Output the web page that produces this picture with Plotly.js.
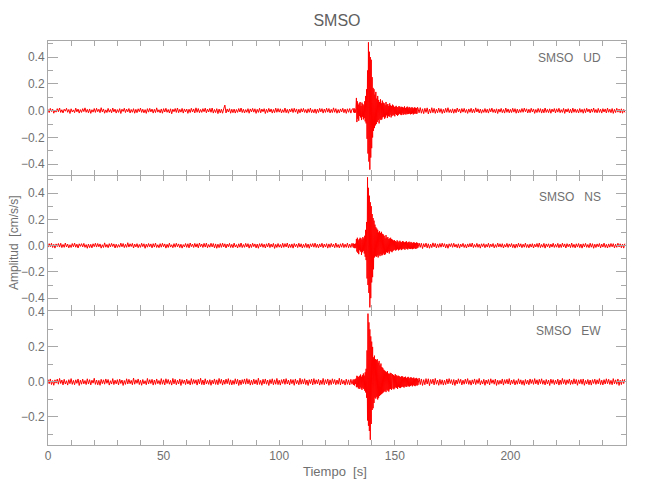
<!DOCTYPE html>
<html>
<head>
<meta charset="utf-8">
<script src="https://cdn.plot.ly/plotly-3.0.1.min.js"></script>
<style>html,body{margin:0;padding:0;background:#fff;}#chart{width:650px;height:500px;}</style>
</head>
<body>
<div id="chart"></div>
<script>
// ---- Data (amplitudes in 0.001 cm/s/s) ----
const station = "SMSO";
const channels = ["UD", "NS", "EW"];
const unit = 0.001;
// sampling of the three record segments [s]
const preStart = 0, preStep = 0.5;
const eventStart = 132, eventStep = 0.2;
const postStart = 160, postStep = 0.5;

const udPre = [10,-14,17,-6,12,-19,5,-11,15,-8,20,-13,7,-17,11,-4,18,-12,9,-21,
14,-10,6,-15,19,-9,12,-18,8,-13,15,-7,21,-12,10,-16,13,-20,7,-11,
16,-13,18,-8,11,-15,22,-10,13,-19,6,-14,17,-11,9,-16,20,-9,12,-18,
8,-13,15,-21,11,-6,18,-14,12,-9,16,-17,9,-12,15,-19,10,-15,14,-8,
19,-13,11,-16,8,-20,15,-11,17,-9,12,-18,10,-14,21,-11,7,-16,13,-19,
15,-10,18,-12,9,-17,14,-23,11,-8,16,-13,20,-15,10,-11,17,-18,13,-9,
12,-20,11,-14,18,-10,13,-17,21,-12,16,-15,9,-13,15,-8,19,-16,12,-10,
17,-12,20,-18,9,-14,15,-22,12,-16,11,-19,14,42,-17,13,-10,15,-19,11,
-15,12,-18,9,-13,16,-10,20,-14,11,-17,8,-12,15,-19,13,-9,17,-11,14,
-20,10,-13,18,-16,12,-8,15,-21,11,-14,17,-10,13,-18,9,-15,19,-12,16,
-11,14,-17,8,-13,20,-15,10,-19,12,-9,16,-14,18,-11,13,-22,11,-16,15,
-10,17,-13,9,-18,14,-12,19,-15,8,-16,13,-20,11,-14,17,-9,15,-18,12,
-13,19,-11,16,-17,10,-14,21,-12,15,-19,9,-16,13,-10,18,-15,12,-20,14,
-12,16,-18,11];
const udEvent = [15,-12,18,-16,10,-14,20,
95,-85,70,
-60,45,-75,55,-40,65,-50,35,-70,60,-45,50,-65,40,-55,
70,-80,110,-95,160,
-210,300,-320,510,-380,440,-440,400,-350,380,
-280,250,-200,170,-150,160,-130,120,-110,140,
-100,90,-85,110,-70,80,-95,65,-60,85,-70,55,-65,75,-50,
60,-45,55,-60,40,-50,65,-35,45,-55,50,-40,35,-45,55,-30,40,-50,35,-40,
45,-30,38,-35,28,-42,30,-25,36,-32,27,-38,25,-30,34,-22,30,-28,24,-33,29,-20,26,-31,22,-27,32,-24,20,-29,
25,-22,30,-26,19,-24,28,-21,23,-27,18,-25,26,-20,22,-28,17,-23,25,-19,21,-24,18,-22,26];
const udPost = [20,-16,23,-19,14,-22,18,-13,21,-24,12,-18,22,-15,17,-20,11,-16,19,-13,
15,-21,10,-17,18,-12,22,-14,9,-16,14,-19,12,-15,20,-9,13,-18,16,-11,
17,-14,9,-20,13,-12,18,-16,11,-15,21,-10,14,-17,12,-19,8,-13,16,-14,
11,-18,15,-9,19,-13,10,-16,14,-21,12,-11,17,-15,9,-18,20,-12,13,-16,
10,-14,18,-11,15,-19,12,-17,9,-13,16,-12,19,-8,14,-17,11,-15,18,-10,
13,-20,9,-14,17,-12,15,-18,11,-16,20,-13,10,-15,14,-19,12,-9,16,-17,
14,-11,18,-15,8,-13,17,-20,12,-10,15,-16,11,-18,19,-12,13,-14,9,-17,
16,-12,10,-19,14,-15,18,-9,12,-17,13,-11,20,-14,9,-16,17,-13,11,-18,
15,-10,13,-17,19,-12,11,-15,16,-20,10,-14,18,-11,12,-16,14,-19,9,-13];

const nsPre = [-12,15,-8,18,-14,10,-19,13,-7,16,-11,18,-15,9,-13,20,-10,12,-17,7,
-14,16,-9,19,-12,11,-18,14,-6,15,-10,17,-13,8,-20,12,-15,10,-17,14,
-8,18,-11,16,-9,13,-19,7,-14,21,-12,9,-16,15,-10,17,-7,13,-18,11,
-14,8,-12,19,-9,16,-15,10,-13,22,-11,14,-7,17,-18,12,-10,15,-16,9,
-13,18,-8,14,-20,11,-12,16,-9,13,-17,15,-11,19,-14,7,-16,15,-12,18,
-9,13,-19,10,-14,19,-11,7,-16,15,-12,18,-9,13,-15,11,-19,8,-10,16,
-13,14,-17,20,-8,12,-14,17,-11,14,-17,20,-8,12,-14,17,-11,19,-16,9,
-12,18,-10,16,-17,13,-20,11,-15,16,-13,19,-10,14,-18,12,-9,17,-14,10,
-16,19,-11,8,-18,14,-12,20,-15,9,-13,17,-10,15,-19,11,-14,18,-8,13,
-17,12,-20,15,-9,16,-13,11,-18,14,-10,19,-15,12,-11,17,-21,10,-14,16,
-12,9,-16,18,-13,15,-10,20,-17,11,-14,13,-19,16,-9,12,-15,18,-11,14,
-18,10,-13,17,-15,12,-20,14,-9,16,-12,19,-14,11,-17,13,-10,18,-16,12,
-11,15,-19,13,-14,17,-10,12,-16,20,-13,9,-17,14,-12,18,-15,11,-13,19,
-16,12,-14,18];
const nsEvent = [-13,16,-18,12,-20,15,-17,
50,-45,60,
-55,40,-65,50,-35,60,-45,55,-70,45,-50,65,-40,55,-60,
75,-85,120,-110,180,
-250,520,-300,440,-360,380,-470,330,-400,300,
-280,240,-240,210,-180,190,-90,160,-80,140,
-85,130,-75,120,-90,100,-70,110,-80,95,-65,105,-75,90,-70,
85,-60,75,-70,55,-65,80,-50,60,-55,65,-45,50,-60,55,-40,60,-45,50,-50,
45,-40,38,-35,42,-30,35,-38,28,-33,40,-27,32,-36,25,-30,37,-24,29,-34,26,-28,35,-22,30,-27,24,-31,28,-20,
33,-25,22,-29,27,-21,30,-24,19,-26,28,-22,23,-27,20,-24,26,-18,22,-25,19,-23,24,-20,21];
const nsPost = [-16,20,-13,18,-22,15,-11,19,-17,14,-20,12,-15,21,-10,17,-18,13,-14,16,
-12,19,-9,15,-17,11,-20,14,-8,16,-13,18,-11,10,-16,14,-19,12,-9,17,
-14,9,-18,13,-11,16,-10,20,-15,9,-12,17,-13,11,-19,14,-8,15,-16,10,
-11,18,-14,12,-9,16,-17,8,-13,19,-10,14,-12,15,-18,9,-11,17,-14,13,
-9,16,-15,10,-19,12,-13,18,-10,14,-16,11,-12,19,-14,9,-17,13,-11,15,
-18,11,-10,16,-13,20,-15,9,-12,17,-19,13,-9,14,-16,12,-11,18,-14,10,
-12,17,-16,11,-14,19,-10,13,-18,15,-9,12,-15,20,-13,10,-17,14,-11,16,
-15,12,-19,14,-10,17,-13,9,-16,18,-12,15,-20,11,-14,13,-9,16,-17,12,
-11,19,-14,10,-18,13,-12,16,-9,15,-17,11,-13,18,-10,14,-16,12,-19,15];

const ewPre = [14,-10,17,-15,8,-19,12,-7,16,-13,20,-9,11,-17,15,-12,7,-18,13,-10,
19,-14,9,-16,12,-8,17,-20,10,-13,16,-11,8,-15,18,-12,13,-17,10,-7,
21,-14,11,-16,9,-19,15,-10,12,-13,17,-8,14,-18,7,-12,19,-15,10,-11,
13,-17,16,-9,11,-20,8,-14,18,-12,15,-10,9,-16,22,-13,12,-8,17,-15,
10,-19,14,-11,7,-16,20,-12,13,-9,15,-18,11,-14,17,-10,8,-15,19,-13,
12,-17,18,-9,14,-13,9,-18,20,-11,15,-16,10,-12,17,-20,13,-9,11,-15,
16,-12,8,-17,19,-13,14,-9,12,-18,15,-11,21,-15,11,-17,18,-12,9,-14,
13,-19,10,-11,17,-14,12,-16,20,-9,15,-18,11,-13,16,-10,19,-15,12,-17,
9,-14,18,-12,15,-20,11,-16,13,-10,17,-13,19,-11,14,-18,10,-15,16,-12,
12,-16,21,-14,9,-19,15,-11,17,-13,11,-20,14,-10,18,-16,12,-13,20,-15,
10,-18,13,-9,16,-14,19,-12,11,-17,15,-10,13,-19,17,-11,9,-16,21,-13,
14,-12,18,-15,11,-20,13,-10,16,-17,19,-13,12,-11,15,-18,10,-14,20,-16,
13,-11,17,-19,12,-15,18,-10,14,-16,11,-13,21,-17,15,-12,9,-18,16,-14,
12,-17,15,-13];
const ewEvent = [14,-17,12,-20,16,-11,19,
-30,35,-28,
32,-36,28,-40,35,-30,42,-38,30,-45,38,-33,48,-40,36,
-50,55,-60,75,-90,
180,-220,390,-250,340,-280,300,-330,260,-240,
230,-160,200,-150,140,-120,150,-90,130,-95,
125,-85,130,-100,110,-90,120,-80,95,-75,105,-70,85,-65,80,
-60,70,-55,65,-50,60,-58,55,-45,62,-50,48,-55,45,-42,52,-40,50,-45,42,
45,-38,40,-42,35,-36,44,-30,38,-34,32,-40,36,-28,34,-33,30,-35,28,-30,33,-26,31,-29,25,-32,27,-24,30,-27,
22,-28,26,-21,29,-25,20,-26,24,-22,27,-19,23,-25,21,-18,25,-22,19,-24,20,-17,23,-21,18];
const ewPost = [-18,22,-15,17,-20,13,-16,19,-12,18,-21,14,-10,16,-17,20,-13,11,-19,15,
-14,12,-18,10,-15,17,-11,19,-9,13,-16,14,-20,11,-12,18,-8,15,-17,10,
-13,16,-10,19,-14,9,-18,12,-11,17,-15,13,-9,20,-16,8,-12,15,-19,11,
-10,14,-17,18,-8,12,-13,16,-20,10,-14,9,-11,17,-18,13,-9,15,-12,19,
-16,11,-10,14,-17,8,-13,18,-11,12,-15,9,-19,14,-12,10,-16,17,-9,13,
-14,19,-11,12,-16,15,-10,18,-13,9,-17,14,-12,11,-20,16,-9,13,-15,10,
-12,16,-18,11,-14,20,-10,13,-16,12,-9,17,-15,10,-13,18,-11,14,-19,12,
-10,15,-13,17,-19,9,-12,14,-16,11,-18,13,-9,16,-14,12,-11,19,-15,10,
-17,13,-12,18,-10,15,-14,9,-16,19,-11,12,-13,17,-20,10,-15,14,-9,16];

const yRanges = [[-0.48, 0.52], [-0.49, 0.53], [-0.36, 0.405]];
const xTickVals = [0, 50, 100, 150, 200];
const xTickText = ["0", "50", "100", "150", "200"];

// ---- Build traces ----
function times(n, start, step) { const t = []; for (let i = 0; i < n; i++) t.push(start + i * step); return t; }
function series(pre, ev, post) {
  return {
    x: times(pre.length, preStart, preStep).concat(times(ev.length, eventStart, eventStep), times(post.length, postStart, postStep)),
    y: pre.concat(ev, post).map(v => v * unit)
  };
}
const sets = [series(udPre, udEvent, udPost), series(nsPre, nsEvent, nsPost), series(ewPre, ewEvent, ewPost)];

const FONT = '"Liberation Sans", Arial, sans-serif';
const AX = '#a8a8a8';
const TXT = '#707070';

const traces = sets.map((s, i) => ({
  x: s.x, y: s.y, type: 'scatter', mode: 'lines',
  line: {color: '#ff0000', width: 1},
  xaxis: 'x' + (i === 0 ? '' : i + 1), yaxis: 'y' + (i === 0 ? '' : i + 1),
  hoverinfo: 'skip', showlegend: false
}));

// panels share a single border line (1 px gap so the two axis lines coincide)
const domains = [[270/404, 1], [135/404, 269/404], [0, 134/404]];
const layout = {
  width: 650, height: 500,
  margin: {l: 48, r: 24, t: 41, b: 55},
  paper_bgcolor: '#ffffff', plot_bgcolor: '#ffffff',
  font: {family: FONT, color: TXT, size: 12},
  title: {text: station, x: 0.5, xref: 'paper', y: 0.96, yanchor: 'middle', font: {size: 16, color: '#606060', family: FONT}},
  showlegend: false,
  annotations: [],
};
for (let i = 0; i < 3; i++) {
  const sfx = i === 0 ? '' : String(i + 1);
  layout['xaxis' + sfx] = {
    anchor: 'y' + sfx, domain: [0, 1], range: [0, 250], autorange: false,
    showline: true, linecolor: AX, linewidth: 1, mirror: 'allticks',
    ticks: 'inside', ticklen: 5, tickcolor: AX, tickwidth: 1,
    tickmode: 'array', tickvals: xTickVals, ticktext: xTickText,
    minor: {dtick: 10, tick0: 0, ticks: 'inside', ticklen: 5, tickcolor: AX, tickwidth: 1, showgrid: false},
    showticklabels: i === 2, showgrid: false, zeroline: false,
    tickfont: {family: FONT, size: 12, color: TXT}
  };
  layout['yaxis' + sfx] = {
    anchor: 'x' + sfx, domain: domains[i], range: yRanges[i], autorange: false,
    showline: true, linecolor: AX, linewidth: 1, mirror: 'allticks',
    ticks: 'inside', ticklen: 10, tickcolor: AX, tickwidth: 1,
    dtick: 0.2, tick0: 0, tickformat: '.1f',
    minor: {dtick: 0.1, tick0: 0, ticks: 'inside', ticklen: 5, tickcolor: AX, tickwidth: 1, showgrid: false},
    showgrid: false, zeroline: false,
    tickfont: {family: FONT, size: 12, color: TXT}
  };
}
const labelY = [0.958, 0.614, 0.282];
channels.forEach((c, i) => {
  layout.annotations.push({
    text: station + '\u00a0\u00a0\u00a0' + c, xref: 'paper', yref: 'paper',
    x: 0.96, y: labelY[i], xanchor: 'right', yanchor: 'middle', showarrow: false,
    font: {family: FONT, size: 12, color: TXT}
  });
});
layout.annotations.push({
  text: 'Tiempo\u00a0\u00a0[s]', xref: 'paper', yref: 'paper', x: 0.497, y: -0.066,
  xanchor: 'center', yanchor: 'middle', showarrow: false, font: {family: FONT, size: 13, color: TXT}
});
layout.annotations.push({
  text: 'Amplitud\u00a0\u00a0[cm/s/s]', xref: 'paper', yref: 'paper', x: -0.0588, y: 0.5, textangle: -90,
  xanchor: 'center', yanchor: 'middle', showarrow: false, font: {family: FONT, size: 12, color: TXT}
});

Plotly.newPlot('chart', traces, layout, {displayModeBar: false, staticPlot: true});
</script>
</body>
</html>
